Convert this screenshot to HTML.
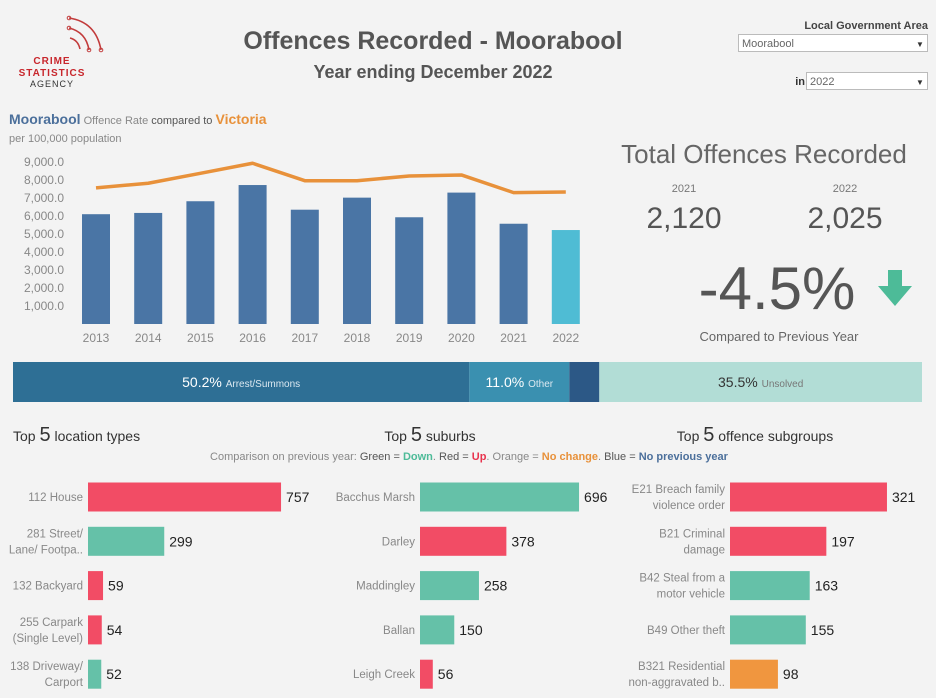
<!DOCTYPE html>
<html><head><meta charset="utf-8"><style>
html,body{margin:0;padding:0;background:#f3f3f3;}
svg{display:block;font-family:"Liberation Sans",sans-serif;}
</style></head><body>
<svg id="dash" width="936" height="698" viewBox="0 0 936 698">
<rect width="936" height="698" fill="#f3f3f3"/>
<g>
<path d="M69 18 Q96 22 101 50" fill="none" stroke="#c23b3b" stroke-width="1.6"/>
<path d="M69 28 Q86 32 89 50" fill="none" stroke="#c23b3b" stroke-width="1.6"/>
<path d="M70 38 Q78 40 80 49" fill="none" stroke="#c23b3b" stroke-width="1.6"/>
<circle cx="69" cy="18" r="1.8" fill="none" stroke="#c23b3b"/><circle cx="69" cy="28" r="1.8" fill="none" stroke="#c23b3b"/><circle cx="101" cy="50" r="1.8" fill="none" stroke="#c23b3b"/><circle cx="89" cy="50" r="1.8" fill="none" stroke="#c23b3b"/>
<text x="52" y="64" font-size="10" fill="#c8262c" text-anchor="middle" font-weight="bold" letter-spacing="1">CRIME</text>
<text x="52" y="76" font-size="10" fill="#c8262c" text-anchor="middle" font-weight="bold" letter-spacing="1">STATISTICS</text>
<text x="52" y="87" font-size="9" fill="#333" text-anchor="middle" letter-spacing="1">AGENCY</text>
</g>
<text x="433" y="49" font-size="25" font-weight="bold" fill="#555" text-anchor="middle">Offences Recorded - Moorabool</text>
<text x="433" y="78" font-size="18" font-weight="bold" fill="#555" text-anchor="middle">Year ending December 2022</text>
<text x="928" y="29" font-size="11" font-weight="bold" fill="#444" text-anchor="end">Local Government Area</text>
<g><rect x="738.5" y="34.5" width="189" height="17" fill="#fff" stroke="#bbb"/><text x="742" y="47" font-size="11" fill="#666">Moorabool</text><text x="920" y="47" font-size="8" fill="#333" text-anchor="middle">▼</text></g>
<text x="805" y="85" font-size="11" font-weight="bold" fill="#333" text-anchor="end">in</text>
<g><rect x="806.5" y="72.5" width="121" height="17" fill="#fff" stroke="#bbb"/><text x="810" y="85" font-size="11" fill="#666">2022</text><text x="920" y="85" font-size="8" fill="#333" text-anchor="middle">▼</text></g>
<text x="9" y="124"><tspan font-size="14" font-weight="bold" fill="#4b6f9b">Moorabool</tspan><tspan font-size="11" fill="#888"> Offence Rate </tspan><tspan font-size="11" fill="#555">compared to </tspan><tspan font-size="14" font-weight="bold" fill="#e8913a">Victoria</tspan></text>
<text x="9" y="142" font-size="11" fill="#888">per 100,000 population</text>
<g id="chart"></g>
<text x="764" y="163" font-size="26" fill="#666" text-anchor="middle">Total Offences Recorded</text>
<text x="684" y="192" font-size="11" fill="#777" text-anchor="middle">2021</text>
<text x="845" y="192" font-size="11" fill="#777" text-anchor="middle">2022</text>
<text x="684" y="228" font-size="30" fill="#555" text-anchor="middle">2,120</text>
<text x="845" y="228" font-size="30" fill="#555" text-anchor="middle">2,025</text>
<text x="777" y="309" font-size="60" fill="#555" text-anchor="middle">-4.5%</text>
<path d="M888 270h14v16h10l-17 20-17-20h10z" fill="#4dbb98"/>
<text x="779" y="341" font-size="13" fill="#666" text-anchor="middle">Compared to Previous Year</text>
<g id="stack"></g>
<text x="13" y="441" font-size="14" fill="#333">Top <tspan font-size="20">5</tspan> location types</text>
<text x="430" y="441" font-size="14" fill="#333" text-anchor="middle">Top <tspan font-size="20">5</tspan> suburbs</text>
<text x="755" y="441" font-size="14" fill="#333" text-anchor="middle">Top <tspan font-size="20">5</tspan> offence subgroups</text>
<text x="469" y="460" font-size="11" fill="#888" text-anchor="middle">Comparison on previous year: <tspan fill="#555">Green = </tspan><tspan fill="#4dbb98" font-weight="bold">Down</tspan>. <tspan fill="#555">Red = </tspan><tspan fill="#e8344e" font-weight="bold">Up</tspan>. Orange = <tspan fill="#e8913a" font-weight="bold">No change</tspan>. <tspan fill="#555">Blue = </tspan><tspan fill="#4b6f9b" font-weight="bold">No previous year</tspan></text>
<g id="tops"></g>
</svg>
<script>
const years=["2013","2014","2015","2016","2017","2018","2019","2020","2021","2022"];
const mooraboolRate=[6100,6170,6820,7720,6350,7020,5930,7300,5570,5220];
const victoriaRate=[7560,7820,8370,8930,7960,7960,8220,8280,7300,7330];
const yTicks=[1000,2000,3000,4000,5000,6000,7000,8000,9000];
const outcomeLabels=["Arrest/Summons","Other","","Unsolved"];
const outcomeShares=[50.2,11.0,3.3,35.5];
const locNames=[["112 House"],["281 Street/","Lane/ Footpa.."],["132 Backyard"],["255 Carpark","(Single Level)"],["138 Driveway/","Carport"]];
const locValues=[757,299,59,54,52];
const locStatus=["up","down","up","up","down"];
const suburbNames=[["Bacchus Marsh"],["Darley"],["Maddingley"],["Ballan"],["Leigh Creek"]];
const suburbValues=[696,378,258,150,56];
const suburbStatus=["down","up","down","down","up"];
const subNames=[["E21 Breach family","violence order"],["B21 Criminal","damage"],["B42 Steal from a","motor vehicle"],["B49 Other theft"],["B321 Residential","non-aggravated b.."]];
const subValues=[321,197,163,155,98];
const subStatus=["up","up","down","down","nochange"];

const NS="http://www.w3.org/2000/svg";
function mk(parent,tag,attrs,text){const e=document.createElementNS(NS,tag);for(const k in attrs)e.setAttribute(k,attrs[k]);if(text!==undefined)e.textContent=text;parent.appendChild(e);return e;}
const fmt=v=>v.toLocaleString("en-US",{minimumFractionDigits:1,maximumFractionDigits:1});

const chart=document.getElementById("chart");
const y=v=>324-v*0.018;
const x=i=>96+i*52.2;
yTicks.forEach(t=>{const e=mk(chart,"text",{x:64,y:y(t)+4,"font-size":12,fill:"#888","text-anchor":"end"},fmt(t));

});
years.forEach((yr,i)=>{
 const b=mk(chart,"rect",{x:x(i)-14,y:y(mooraboolRate[i]),width:28,height:324-y(mooraboolRate[i]),fill:i===years.length-1?"#4fbcd4":"#4a75a5"});
 
 
 const l=mk(chart,"text",{x:x(i),y:342,"font-size":12,fill:"#888","text-anchor":"middle"},yr);
 
 
});
const line=mk(chart,"polyline",{points:victoriaRate.map((v,i)=>x(i)+","+y(v)).join(" "),fill:"none",stroke:"#e8913a","stroke-width":3.5,"stroke-linejoin":"round"});



const stack=document.getElementById("stack");
const sColors=["#2e6f95","#3a90b0","#2c5886","#b2ddd6"];
const total=outcomeShares.reduce((a,b)=>a+b,0);
let sx=13;const sw=909;
outcomeShares.forEach((s,i)=>{
 const w=s/total*sw;
 const r=mk(stack,"rect",{x:sx,y:362,width:w,height:40,fill:sColors[i]});
 
 
 if(outcomeLabels[i]){
  const dark=i===3;
  const t=mk(stack,"text",{x:sx+w/2,y:387,"text-anchor":"middle",fill:dark?"#333":"#fff"});
  
  
  mk(t,"tspan",{"font-size":14},s.toFixed(1)+"% ");
  mk(t,"tspan",{"font-size":10,fill:dark?"#777":"#dbe8f0"},outcomeLabels[i]);
 }
 sx+=w;
});

const tops=document.getElementById("tops");
const statusColor={up:"#f24c65",down:"#65c1a8",nochange:"#f0963f",none:"#4a75a5"};
function topChart(names,vals,status,x0,scale,prefix){
 vals.forEach((v,i)=>{
  const cy=497+i*44.3;
  const r=mk(tops,"rect",{x:x0,y:cy-14.5,width:v*scale,height:29,fill:statusColor[status[i]]});
  
  
  const vt=mk(tops,"text",{x:x0+v*scale+5,y:cy+5,"font-size":14,fill:"#222"},String(v));
  
  
  const n=names[i];
  n.forEach((ln,j)=>{
   const ty=n.length===1?cy+4:cy-4+j*16;
   const lt=mk(tops,"text",{x:x0-5,y:ty,"font-size":11.5,fill:"#888","text-anchor":"end"},ln);
   
   
  });
 });
}
topChart(locNames,locValues,locStatus,88,0.255,'location');
topChart(suburbNames,suburbValues,suburbStatus,420,0.2285,'suburb');
topChart(subNames,subValues,subStatus,730,0.489,'subgroup');
</script>
</body></html>
